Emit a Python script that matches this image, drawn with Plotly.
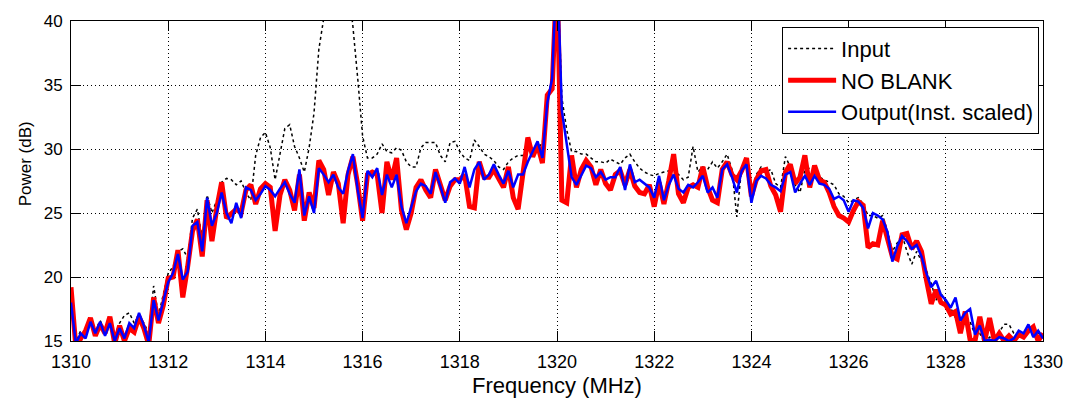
import numpy as np
import plotly.graph_objects as go

# Frequency axis (MHz), 0.1 MHz step from 1310 to 1330
freq_start = 1310.0
freq_step = 0.1
n_points = 201
freq = np.round(freq_start + freq_step * np.arange(n_points), 2)

input_db = [
    18.6, 15.0, 15.8, 15.6, 16.7, 15.8, 16.6, 15.8, 16.7, 15.4,
    16.4, 17.0, 17.2, 16.4, 17.0, 16.4, 15.6, 19.3, 17.0, 18.6,
    20.3, 20.8, 22.0, 22.2, 21.5, 24.6, 25.3, 23.0, 26.4, 25.0,
    26.0, 27.4, 27.7, 27.6, 27.2, 27.5, 26.6, 26.0, 29.5, 30.9,
    31.3, 30.1, 27.6, 29.6, 31.6, 31.9, 30.2, 29.3, 28.2, 30.1,
    32.8, 37.8, 40.5, 43.0, 45.0, 44.0, 45.0, 43.0, 39.6, 35.5,
    31.0, 29.3, 29.3, 29.6, 30.4, 29.8, 29.7, 30.1, 29.9, 29.0,
    28.6, 28.6, 30.1, 30.5, 30.5, 30.5, 29.5, 29.0, 30.5, 30.6,
    29.8, 29.3, 29.1, 30.7, 30.2, 29.6, 29.4, 29.1, 28.6, 28.4,
    29.0, 29.3, 29.5, 29.5, 29.8, 30.2, 30.0, 30.5, 33.8, 35.5,
    45.0, 34.0, 31.5, 29.8, 29.8, 29.6, 29.6, 29.3, 29.0, 29.0,
    28.9, 29.2, 29.0, 28.8, 29.3, 29.6, 29.0, 28.5, 28.2, 28.0,
    27.9, 28.1, 28.2, 28.3, 28.4, 28.0, 27.6, 27.8, 30.2, 28.2,
    28.6, 28.4, 29.0, 28.5, 29.0, 29.6, 28.4, 24.7, 28.6, 29.0,
    26.4, 28.0, 28.6, 28.2, 28.4, 27.3, 27.0, 29.4, 28.6, 27.2,
    26.6, 28.4, 28.5, 28.4, 27.8, 27.6, 27.4, 27.2, 26.5, 26.3,
    25.8, 26.0, 26.2, 25.7, 24.8, 24.8, 24.6, 24.8, 23.6, 22.0,
    22.6, 23.3, 22.0, 21.0, 22.0, 21.2, 20.5, 19.5, 18.2, 18.8,
    18.0, 17.6, 16.8, 16.2, 16.9, 16.5, 15.5, 15.6, 14.8, 15.3,
    15.2, 15.7, 16.3, 16.3, 15.6, 15.4, 15.6, 15.8, 15.4, 15.6,
    15.3,
]

no_blank_db = [
    19.2, 14.5, 15.2, 15.8, 16.8, 15.4, 16.3, 15.6, 16.9, 14.8,
    16.2, 15.0, 16.0, 15.7, 16.9, 16.0, 14.7, 18.4, 16.4, 17.8,
    19.9, 20.0, 22.1, 18.4, 20.8, 23.6, 24.5, 21.6, 26.0, 22.8,
    25.4, 27.4, 24.6, 25.0, 25.3, 25.0, 26.8, 27.2, 25.7, 26.9,
    27.3, 27.0, 23.6, 26.4, 27.6, 26.8, 25.2, 28.0, 24.4, 26.6,
    25.4, 29.1, 28.4, 26.4, 28.2, 27.3, 24.2, 28.0, 29.4, 27.2,
    24.4, 28.0, 28.2, 28.0, 25.0, 29.0, 27.6, 29.3, 25.2, 23.7,
    25.0, 27.0, 27.6, 26.8, 26.2, 28.4, 27.3, 26.0, 27.1, 27.6,
    27.6, 28.0, 25.5, 25.4, 29.0, 27.8, 27.8, 28.4, 27.7, 27.0,
    28.6, 26.2, 25.3, 28.0, 30.9, 29.4, 30.3, 28.9, 34.2, 34.7,
    44.0, 26.0, 25.8, 29.5, 27.0, 28.4, 29.1, 28.6, 27.2, 28.4,
    27.3, 26.8, 28.0, 28.3, 27.2, 28.4, 27.1, 26.6, 26.5, 27.2,
    25.5, 27.4, 25.7, 27.5, 29.6, 26.5, 25.8, 27.0, 27.2, 27.0,
    28.6, 27.0, 26.0, 25.8, 28.4, 29.0, 28.0, 27.6, 28.3, 29.3,
    26.3, 27.6, 28.3, 28.4, 27.1, 26.4, 25.1, 28.2, 28.8, 27.3,
    27.8, 29.5, 27.0, 28.7, 27.6, 27.4, 26.6, 25.5, 24.8, 24.6,
    24.3, 25.2, 25.9, 25.6, 22.3, 22.6, 22.5, 24.4, 23.1, 21.6,
    21.4, 23.3, 23.4, 22.2, 22.8, 22.0, 19.8, 17.9, 19.0, 18.0,
    17.8, 17.1, 17.3, 15.6, 17.3, 15.1, 15.0, 16.9, 15.0, 16.8,
    15.0, 15.6, 15.0, 15.4, 15.0, 15.5, 15.3, 15.8, 16.1, 15.0,
    15.6,
]

output_db = [
    18.0, 14.8, 15.6, 15.2, 16.5, 15.6, 16.5, 15.4, 16.4, 15.0,
    16.0, 15.2, 16.4, 16.0, 17.2, 16.2, 14.9, 18.2, 16.6, 18.0,
    19.6, 20.3, 21.8, 19.8, 20.4, 24.0, 24.3, 22.0, 26.2, 24.0,
    25.0, 26.6, 25.0, 24.2, 25.8, 24.6, 27.0, 26.8, 26.0, 26.5,
    27.1, 26.8, 26.3, 26.9, 27.4, 26.5, 25.8, 28.4, 24.8, 26.3,
    25.0, 28.5, 28.0, 27.4, 28.0, 27.0, 26.5, 28.3, 29.6, 26.8,
    24.6, 28.3, 27.8, 28.5, 26.4, 28.0, 27.0, 28.0, 25.5, 24.2,
    25.5, 26.7, 27.3, 27.1, 26.5, 28.2, 27.1, 25.8, 27.4, 27.7,
    27.3, 28.6, 27.0, 28.4, 29.0, 27.6, 28.0, 28.8, 28.0, 27.3,
    28.3, 27.0, 28.0, 28.0, 29.0, 29.8, 30.6, 29.3, 33.6, 35.5,
    45.0, 33.0, 30.5, 27.8, 27.2, 28.0, 28.7, 28.5, 27.8, 28.2,
    27.6, 27.8, 27.8, 28.6, 26.8, 28.8, 27.4, 27.6, 27.3, 27.0,
    26.2, 27.9, 26.0, 27.2, 28.0, 26.9, 26.6, 27.2, 27.0, 27.4,
    27.9, 26.6, 27.0, 26.2, 28.4, 28.8, 27.8, 26.6, 28.3, 28.8,
    25.8, 27.5, 27.9, 27.7, 27.2, 27.0, 26.7, 28.0, 28.2, 26.6,
    27.3, 27.9, 27.2, 27.9, 27.3, 27.2, 26.9, 26.1, 26.3, 26.0,
    25.1, 26.0, 25.9, 25.4, 23.8, 25.0, 24.8, 24.5, 23.5, 21.2,
    22.4, 23.2, 22.8, 22.2, 22.5, 21.6, 20.3, 19.2, 19.7, 18.6,
    18.2, 17.6, 18.4, 16.6, 17.2, 17.5, 15.5, 16.2, 15.0, 15.1,
    15.0, 15.3, 15.2, 15.0, 15.2, 15.8, 15.6, 16.3, 15.3, 15.8,
    15.2,
]

x_ticks = [1310, 1312, 1314, 1316, 1318, 1320, 1322, 1324, 1326, 1328, 1330]
y_ticks = [15, 20, 25, 30, 35, 40]

series_names = ["Input", "NO BLANK", "Output(Inst. scaled)"]
x_title = "Frequency (MHz)"
y_title = "Power (dB)"

fig = go.Figure()
fig.add_trace(go.Scatter(x=freq, y=input_db, mode="lines", name=series_names[0],
                         line=dict(color="black", width=1.5, dash="dot")))
fig.add_trace(go.Scatter(x=freq, y=no_blank_db, mode="lines", name=series_names[1],
                         line=dict(color="#ff0000", width=5)))
fig.add_trace(go.Scatter(x=freq, y=output_db, mode="lines", name=series_names[2],
                         line=dict(color="#0000ff", width=2.5)))

font_family = "Liberation Sans, Arial, Helvetica, sans-serif"

axis_common = dict(
    showgrid=True, gridcolor="black", gridwidth=1, griddash="1px,3px",
    showline=True, linecolor="black", linewidth=1, mirror="allticks",
    ticks="inside", ticklen=10, tickcolor="black", zeroline=False,
)

fig.update_layout(
    width=1075, height=398,
    margin=dict(l=71, r=24, t=14, b=57),
    paper_bgcolor="white", plot_bgcolor="white",
    font=dict(family=font_family, color="black", size=16),
    showlegend=True,
    legend=dict(
        x=0.996, y=0.982, xanchor="right", yanchor="top",
        bgcolor="white", bordercolor="black", borderwidth=1,
        font=dict(family=font_family, size=22, color="black"),
        itemwidth=48, tracegroupgap=0,
    ),
    xaxis=dict(
        range=[1310, 1330], tickmode="array", tickvals=x_ticks,
        ticktext=[str(t) for t in x_ticks],
        tickfont=dict(family=font_family, size=18),
        ticklabelstandoff=4,
        **axis_common,
    ),
    yaxis=dict(
        range=[15, 40], tickmode="array", tickvals=y_ticks,
        ticktext=[str(t) for t in y_ticks],
        tickfont=dict(family=font_family, size=17),
        ticklabelstandoff=4,
        **axis_common,
    ),
    annotations=[
        dict(text=x_title, xref="paper", yref="paper", x=0.5, y=-0.138,
             xanchor="center", yanchor="middle", showarrow=False,
             font=dict(family=font_family, size=22, color="black")),
        dict(text=y_title, xref="paper", yref="paper", x=-0.047, y=0.553,
             xanchor="center", yanchor="middle", showarrow=False, textangle=-90,
             font=dict(family=font_family, size=17, color="black")),
    ],
)

fig.write_html("out.html")
